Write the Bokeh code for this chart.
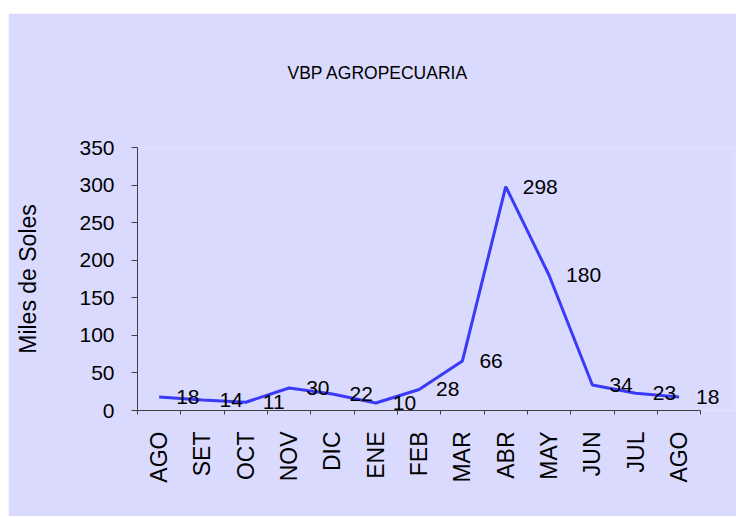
import math
from bokeh.plotting import figure
from bokeh.models import (FixedTicker, CustomJSTickFormatter, ColumnDataSource,
                          LabelSet, Range1d, Spacer, Title)
from bokeh.layouts import column, row
from bokeh.core.properties import value
from bokeh.embed import file_html
from bokeh.resources import INLINE

# ---- data ----
months = ["AGO", "SET", "OCT", "NOV", "DIC", "ENE", "FEB", "MAR",
          "ABR", "MAY", "JUN", "JUL", "AGO"]
values = [18, 14, 11, 30, 22, 10, 28, 66, 298, 180, 34, 23, 18]
y_ticks = [0, 50, 100, 150, 200, 250, 300, 350]
title_text = "VBP AGROPECUARIA"
y_title = "Miles de Soles"

BG = "#DADAFF"
FONT = "Liberation Sans"

n = len(months)
xs = [i + 0.5 for i in range(n)]
src = ColumnDataSource(dict(x=xs, y=values, lab=[str(v) for v in values]))

p = figure(width=728, height=503, output_backend="svg", toolbar_location=None,
           x_range=Range1d(0, 13.78), y_range=Range1d(0, 350),
           min_border_left=129, min_border_right=2,
           min_border_top=134, min_border_bottom=106)
p.background_fill_color = BG
p.border_fill_color = BG
p.outline_line_color = None
p.xgrid.grid_line_color = None
p.ygrid.grid_line_color = None

p.title.text = title_text
p.title.align = "left"
p.title.text_font = FONT
p.title.text_font_size = "17.5px"
p.title.text_font_style = "normal"
p.title.text_color = "black"
p.title.standoff = 0
p.title.offset = 150

# empty spacer title between the frame and the real title
gap = Title(text=" ", text_font_size="1px", standoff=62)
p.add_layout(gap, "above")

p.line("x", "y", source=src, line_color="#3A3AF8", line_width=3)

labels = LabelSet(x="x", y="y", text="lab", source=src, x_offset=17,
                  text_baseline="middle", text_align="left",
                  text_font=value(FONT), text_font_size="21px", text_color="black")
p.add_layout(labels)

# x axis: labels at category centres, tick marks at boundaries (minor ticks)
xa = p.xaxis[0]
xa.bounds = (0, n)
xa.ticker = FixedTicker(ticks=xs, minor_ticks=list(range(n + 1)))
xa.formatter = CustomJSTickFormatter(args=dict(labels=months),
                                     code="return labels[Math.floor(tick)];")
xa.major_tick_out = 0
xa.major_tick_in = 0
xa.minor_tick_out = 4
xa.minor_tick_in = 0
xa.minor_tick_line_color = "#404040"
xa.axis_line_color = "#404040"
xa.major_label_orientation = math.pi / 2
xa.major_label_text_font = FONT
xa.major_label_text_font_size = "23px"
xa.major_label_text_color = "black"
xa.major_label_standoff = 17

ya = p.yaxis[0]
ya.ticker = FixedTicker(ticks=y_ticks, minor_ticks=[])
ya.major_tick_out = 6
ya.major_tick_in = 0
ya.major_tick_line_color = "#404040"
ya.axis_line_color = "#404040"
ya.major_label_text_font = FONT
ya.major_label_text_font_size = "21px"
ya.major_label_text_color = "black"
ya.major_label_standoff = 17
ya.axis_label = y_title
ya.axis_label_text_font = FONT
ya.axis_label_text_font_size = "23px"
ya.axis_label_text_font_style = "normal"
ya.axis_label_text_color = "black"
ya.axis_label_standoff = 35

layout = column(Spacer(width=736, height=13),
                row(Spacer(width=8, height=503), p, spacing=0),
                spacing=0)
open("out.html", "w").write(file_html(layout, INLINE))
